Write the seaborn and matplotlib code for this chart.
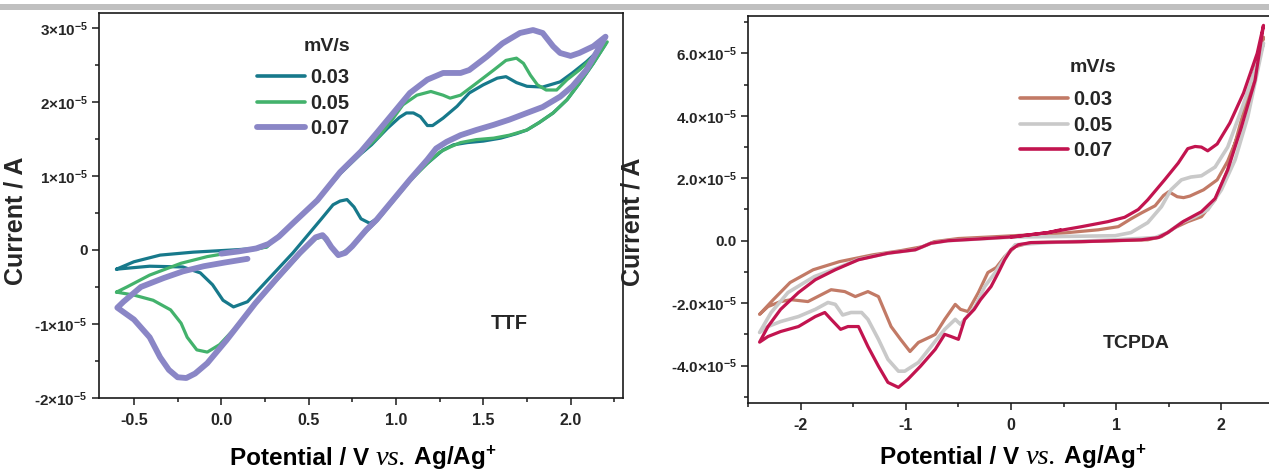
import numpy as np
import pandas as pd
import matplotlib
matplotlib.use("Agg")
import matplotlib.pyplot as plt
from matplotlib.lines import Line2D
from matplotlib.patches import Rectangle
from matplotlib.offsetbox import TextArea, HPacker, AnchoredOffsetbox
from matplotlib.ticker import FixedLocator, FixedFormatter, MultipleLocator
import seaborn as sns

# ---------------- data (potential in V, current in units of 1e-5 A) ----------------
rates = ["0.03", "0.05", "0.07"]

# TTF, 0.03 mV/s
ttf_003_E = [-0.60, -0.50, -0.35, -0.16, 0.07, 0.20, 0.26, 0.30, 0.41, 0.55, 0.68, 0.80, 0.86,
             0.95, 1.02, 1.06, 1.10, 1.14, 1.18, 1.21, 1.27, 1.35, 1.42, 1.50, 1.58, 1.63, 1.69,
             1.75, 1.84, 1.94, 2.01, 2.09, 2.20,
             2.13, 2.05, 1.98, 1.90, 1.82, 1.75, 1.69, 1.60, 1.50, 1.41, 1.33, 1.27, 1.18, 1.08,
             0.985, 0.91, 0.85, 0.80, 0.76, 0.72, 0.68, 0.64, 0.57, 0.41, 0.26, 0.15, 0.07, 0.01,
             -0.05, -0.12, -0.22, -0.41, -0.60]
ttf_003_I = [-0.26, -0.16, -0.07, -0.03, 0.00, 0.02, 0.04, 0.13, 0.36, 0.67, 1.03, 1.30, 1.42,
             1.64, 1.79, 1.85, 1.85, 1.80, 1.68, 1.68, 1.78, 1.94, 2.12, 2.23, 2.32, 2.34, 2.26,
             2.21, 2.20, 2.27, 2.39, 2.54, 2.78,
             2.52, 2.25, 2.03, 1.85, 1.72, 1.62, 1.57, 1.51, 1.47, 1.45, 1.42, 1.35, 1.17, 0.95,
             0.68, 0.45, 0.36, 0.42, 0.58, 0.68, 0.66, 0.61, 0.41, -0.04, -0.42, -0.70, -0.77, -0.68,
             -0.47, -0.31, -0.23, -0.22, -0.26]

# TTF, 0.05 mV/s
ttf_005_E = [-0.60, -0.54, -0.41, -0.23, -0.08, 0.07, 0.20, 0.26, 0.30, 0.41, 0.55, 0.68, 0.80,
             0.91, 0.985, 1.04, 1.12, 1.20, 1.27, 1.31, 1.37, 1.46, 1.56, 1.63, 1.69, 1.73, 1.77,
             1.81, 1.86, 1.92, 1.98, 2.05, 2.13, 2.21,
             2.13, 2.05, 1.98, 1.90, 1.82, 1.75, 1.65, 1.56, 1.46, 1.37, 1.31, 1.25, 1.18, 1.08,
             0.985, 0.89, 0.83, 0.75, 0.67, 0.63, 0.58, 0.54, 0.45, 0.32, 0.18, 0.07, -0.01, -0.08,
             -0.14, -0.195, -0.23, -0.29, -0.39, -0.50, -0.60]
ttf_005_I = [-0.57, -0.50, -0.34, -0.18, -0.09, -0.03, 0.01, 0.04, 0.13, 0.36, 0.67, 1.03, 1.31,
             1.55, 1.78, 1.96, 2.09, 2.14, 2.09, 2.05, 2.09, 2.25, 2.43, 2.56, 2.59, 2.52, 2.36,
             2.23, 2.16, 2.16, 2.30, 2.43, 2.61, 2.81,
             2.52, 2.25, 2.03, 1.85, 1.72, 1.62, 1.55, 1.51, 1.49, 1.45, 1.39, 1.32, 1.17, 0.93,
             0.66, 0.39, 0.25, 0.05, -0.08, 0.04, 0.18, 0.15, -0.06, -0.40, -0.77, -1.08, -1.28,
             -1.38, -1.35, -1.18, -0.99, -0.81, -0.68, -0.61, -0.57]

# TTF, 0.07 mV/s
ttf_007_E = [0.00, 0.10, 0.20, 0.27, 0.33, 0.41, 0.55, 0.68, 0.80, 0.89, 0.985, 1.08, 1.18,
             1.27, 1.37, 1.42, 1.52, 1.61, 1.71, 1.785, 1.84, 1.90, 1.94, 2.00, 2.05, 2.13, 2.20,
             2.09, 2.01, 1.94, 1.84, 1.75, 1.65, 1.56, 1.46, 1.37, 1.29, 1.23, 1.18, 1.08, 0.985,
             0.89, 0.83, 0.75, 0.71, 0.67, 0.63, 0.60, 0.58, 0.54, 0.45, 0.32, 0.195, 0.03, -0.08,
             -0.15, -0.20, -0.25, -0.30, -0.35, -0.41, -0.50, -0.595,
             -0.56, -0.46, -0.33, -0.22, -0.10, 0.02, 0.15]
ttf_007_I = [-0.05, -0.02, 0.02, 0.08, 0.18, 0.36, 0.67, 1.05, 1.33, 1.58, 1.85, 2.12, 2.30,
             2.39, 2.39, 2.43, 2.61, 2.79, 2.93, 2.97, 2.93, 2.75, 2.66, 2.62, 2.66, 2.75, 2.88,
             2.43, 2.21, 2.07, 1.93, 1.85, 1.76, 1.69, 1.62, 1.55, 1.46, 1.37, 1.22, 0.95, 0.68,
             0.41, 0.27, 0.05, -0.04, -0.07, 0.04, 0.15, 0.20, 0.17, -0.04, -0.38, -0.72, -1.22,
             -1.53, -1.67, -1.73, -1.72, -1.62, -1.45, -1.18, -0.94, -0.78,
             -0.70, -0.50, -0.38, -0.29, -0.22, -0.17, -0.12]

# TCPDA, 0.03 mV/s
tcpda_003_E = [0.19, 0.51, 0.83, 1.02, 1.14, 1.24, 1.37, 1.45, 1.50, 1.58, 1.64, 1.70, 1.83,
               1.96, 2.06, 2.18, 2.28, 2.40,
               2.32, 2.19, 2.06, 1.94, 1.81, 1.68, 1.56, 1.43, 1.30, 0.70, 0.19, 0.04, -0.06,
               -0.14, -0.22, -0.31, -0.41, -0.48, -0.53, -0.63, -0.72, -0.76, -0.88, -0.96, -1.05,
               -1.14, -1.26, -1.36, -1.48, -1.58, -1.71, -1.93, -2.09, -2.19, -2.31, -2.39,
               -2.26, -2.10, -1.88, -1.63, -1.31, -1.05, -0.84, -0.73, -0.50, -0.20, 0.19]
tcpda_003_I = [0.19, 0.25, 0.35, 0.45, 0.70, 0.89, 1.12, 1.45, 1.57, 1.41, 1.38, 1.43, 1.63,
               1.95, 2.55, 3.55, 5.00, 6.52,
               5.46, 3.87, 2.27, 1.31, 0.77, 0.61, 0.42, 0.13, 0.03, -0.03, -0.06, -0.19, -0.51,
               -0.86, -1.02, -1.66, -2.27, -2.20, -2.04, -2.52, -3.00, -3.07, -3.26, -3.55, -3.16,
               -2.75, -1.79, -1.63, -1.79, -1.63, -1.57, -1.95, -1.89, -1.95, -2.11, -2.36,
               -1.89, -1.34, -0.93, -0.67, -0.45, -0.32, -0.19, -0.03, 0.07, 0.12, 0.19]

# TCPDA, 0.05 mV/s
tcpda_005_E = [0.04, 0.35, 0.99, 1.14, 1.30, 1.43, 1.52, 1.62, 1.71, 1.81, 1.94, 2.06, 2.19,
               2.32, 2.40,
               2.25, 2.13, 2.00, 1.87, 1.75, 1.62, 1.49, 1.37, 0.99, 0.35, 0.04, -0.05, -0.15,
               -0.25, -0.34, -0.44, -0.48, -0.53, -0.63, -0.76, -0.88, -1.01, -1.07, -1.17, -1.26,
               -1.36, -1.42, -1.52, -1.60, -1.67, -1.74, -1.86, -2.02, -2.19, -2.31, -2.39,
               -2.28, -2.12, -1.87, -1.67, -1.45, -1.17, -0.91, -0.76, -0.60, -0.29, 0.04]
tcpda_005_I = [0.12, 0.13, 0.16, 0.26, 0.58, 1.09, 1.63, 1.95, 2.04, 2.08, 2.36, 3.00, 4.19,
               5.46, 6.33,
               3.96, 2.59, 1.63, 0.99, 0.77, 0.58, 0.26, 0.10, 0.03, -0.06, -0.13, -0.50, -1.02,
               -1.47, -2.11, -2.52, -2.68, -2.52, -2.84, -3.39, -3.90, -4.18, -4.18, -3.80, -3.16,
               -2.52, -2.30, -2.30, -2.38, -2.04, -1.98, -2.20, -2.43, -2.59, -2.75, -2.94,
               -2.30, -1.66, -1.15, -0.90, -0.60, -0.40, -0.29, -0.08, 0.00, 0.06, 0.12]

# TCPDA, 0.07 mV/s
tcpda_007_E = [0.00, 0.35, 0.67, 0.92, 1.08, 1.21, 1.30, 1.46, 1.59, 1.68, 1.75, 1.81, 1.87,
               1.96, 2.08, 2.21, 2.34, 2.40,
               2.32, 2.19, 2.06, 1.94, 1.81, 1.64, 1.49, 1.40, 1.24, 0.67, 0.19, 0.07, 0.00,
               -0.06, -0.12, -0.19, -0.29, -0.35, -0.44, -0.50, -0.57, -0.63, -0.72, -0.86, -0.98,
               -1.07, -1.17, -1.26, -1.36, -1.45, -1.55, -1.62, -1.71, -1.77, -1.86, -2.02, -2.19,
               -2.31, -2.39,
               -2.31, -2.19, -2.02, -1.86, -1.67, -1.45, -1.17, -0.91, -0.76, -0.60, -0.29, 0.04,
               0.35, 0.47]
tcpda_007_I = [0.12, 0.26, 0.45, 0.61, 0.75, 1.00, 1.31, 1.95, 2.49, 2.95, 3.02, 3.00, 2.88,
               3.10, 3.77, 4.73, 6.00, 6.90,
               5.14, 3.64, 2.27, 1.35, 0.93, 0.62, 0.26, 0.10, 0.03, -0.03, -0.06, -0.13, -0.29,
               -0.61, -1.02, -1.47, -1.89, -2.20, -2.52, -3.16, -3.07, -3.00, -3.48, -4.02, -4.44,
               -4.70, -4.54, -4.02, -3.39, -2.75, -2.75, -2.84, -2.52, -2.30, -2.43, -2.75, -2.91,
               -3.07, -3.25,
               -2.75, -2.20, -1.66, -1.25, -0.93, -0.61, -0.40, -0.29, -0.08, 0.00, 0.06, 0.13,
               0.26, 0.35]

ttf_series = {"0.03": (ttf_003_E, ttf_003_I), "0.05": (ttf_005_E, ttf_005_I),
              "0.07": (ttf_007_E, ttf_007_I)}
tcpda_series = {"0.03": (tcpda_003_E, tcpda_003_I), "0.05": (tcpda_005_E, tcpda_005_I),
                "0.07": (tcpda_007_E, tcpda_007_I)}

# axis ticks
ttf_xticks = [-0.5, 0.0, 0.5, 1.0, 1.5, 2.0]
ttf_xticklabels = ["-0.5", "0.0", "0.5", "1.0", "1.5", "2.0"]
ttf_yticks = [-2e-5, -1e-5, 0, 1e-5, 2e-5, 3e-5]
ttf_yticklabels = [r"-2×10$^{-5}$", r"-1×10$^{-5}$", "0", r"1×10$^{-5}$", r"2×10$^{-5}$",
                   r"3×10$^{-5}$"]
tcpda_xticks = [-2, -1, 0, 1, 2]
tcpda_xticklabels = ["-2", "-1", "0", "1", "2"]
tcpda_yticks = [-4e-5, -2e-5, 0, 2e-5, 4e-5, 6e-5]
tcpda_yticklabels = [r"-4.0×10$^{-5}$", r"-2.0×10$^{-5}$", "0.0", r"2.0×10$^{-5}$",
                     r"4.0×10$^{-5}$", r"6.0×10$^{-5}$"]

# ---------------- style ----------------
sns.set_theme(style="ticks")
plt.rcParams["font.family"] = ["Liberation Sans", "DejaVu Sans"]
plt.rcParams["font.weight"] = "bold"
plt.rcParams["mathtext.fontset"] = "custom"
plt.rcParams["mathtext.rm"] = "Liberation Sans:bold"
plt.rcParams["mathtext.bf"] = "Liberation Sans:bold"
plt.rcParams["mathtext.it"] = "Liberation Serif:italic"
plt.rcParams["mathtext.default"] = "rm"

ttf_colors = {"0.03": "#17798b", "0.05": "#43b26c", "0.07": "#8a86c6"}
ttf_widths = {"0.03": 2.3, "0.05": 2.3, "0.07": 4.2}
tcpda_colors = {"0.03": "#c27a66", "0.05": "#c9c9c9", "0.07": "#c2144f"}
tcpda_widths = {"0.03": 2.3, "0.05": 2.6, "0.07": 2.3}

W, H = 1269, 472
fig = plt.figure(figsize=(W / 100, H / 100), dpi=100)
fig.patch.set_facecolor("white")

# thin grey band along the top edge
fig.add_artist(Rectangle((0, 1 - 9.5 / H), 1, 5.5 / H, transform=fig.transFigure,
                         facecolor="#c0c0c0", edgecolor="none"))

ax1 = fig.add_axes([99 / W, 1 - 398 / H, 524 / W, 385 / H])
ax2 = fig.add_axes([748 / W, 1 - 403 / H, 526 / W, 387 / H])


def draw_panel(ax, series, colors, widths):
    for rate in rates:
        E, I = series[rate]
        df = pd.DataFrame({"E": E, "I": np.asarray(I) * 1e-5})
        sns.lineplot(data=df, x="E", y="I", sort=False, estimator=None, ax=ax,
                     color=colors[rate], linewidth=widths[rate], solid_capstyle="round",
                     solid_joinstyle="round")


draw_panel(ax1, ttf_series, ttf_colors, ttf_widths)
draw_panel(ax2, tcpda_series, tcpda_colors, tcpda_widths)

ax1.set_xlim(-0.7, 2.3)
ax1.set_ylim(-2.0e-5, 3.2e-5)
ax2.set_xlim(-2.5, 2.5)
ax2.set_ylim(-5.2e-5, 7.2e-5)

ax1.xaxis.set_major_locator(FixedLocator(ttf_xticks))
ax1.xaxis.set_major_formatter(FixedFormatter(ttf_xticklabels))
ax1.xaxis.set_minor_locator(MultipleLocator(0.25))
ax1.yaxis.set_major_locator(FixedLocator(ttf_yticks))
ax1.yaxis.set_major_formatter(FixedFormatter(ttf_yticklabels))
ax1.yaxis.set_minor_locator(MultipleLocator(0.5e-5))

ax2.xaxis.set_major_locator(FixedLocator(tcpda_xticks))
ax2.xaxis.set_major_formatter(FixedFormatter(tcpda_xticklabels))
ax2.xaxis.set_minor_locator(MultipleLocator(0.5))
ax2.yaxis.set_major_locator(FixedLocator(tcpda_yticks))
ax2.yaxis.set_major_formatter(FixedFormatter(tcpda_yticklabels))
ax2.yaxis.set_minor_locator(MultipleLocator(1e-5))


def potential_label(ax, y):
    """Axis title built from pieces so that 'vs.' can be set in a serif italic."""
    sans = dict(fontsize=17.5, fontweight="bold", family="Liberation Sans", color="black")
    parts = [TextArea("Potential / V ", textprops=sans),
             TextArea("vs.", textprops=dict(fontsize=20.5, style="italic", fontweight="normal",
                                            family="Liberation Serif", color="black")),
             TextArea(" Ag/Ag$^{+}$", textprops=sans)]
    box = HPacker(children=parts, align="baseline", pad=0, sep=0)
    anchored = AnchoredOffsetbox(loc="upper center", child=box, pad=0, borderpad=0,
                                 frameon=False, bbox_to_anchor=(0.504, y),
                                 bbox_transform=ax.transAxes)
    ax.add_artist(anchored)


for ax in (ax1, ax2):
    ax.set_facecolor("white")
    for s in ax.spines.values():
        s.set_color("#1a1a1a")
        s.set_linewidth(1.2)
        s.set_visible(True)
    ax.tick_params(which="both", direction="out", color="#1a1a1a", width=1.1,
                   top=False, right=False)
    ax.tick_params(which="major", length=5)
    ax.tick_params(which="minor", length=3)
    ax.tick_params(axis="x", labelsize=11.5, pad=6)
    ax.tick_params(axis="y", labelsize=11, pad=3)
    ax.set_xlabel("")
    ax.set_ylabel("Current / A", fontsize=18, fontweight="bold")
    for lbl in ax.get_xticklabels() + ax.get_yticklabels():
        lbl.set_fontweight("bold")

potential_label(ax1, -0.118)
potential_label(ax2, -0.103)
ax1.yaxis.set_label_coords(-0.137, 0.46)
ax2.yaxis.set_label_coords(-0.196, 0.468)

# legends with the scan-rate heading set as a separate line of text
for ax, colors, widths, anchor, head in (
        (ax1, ttf_colors, ttf_widths, (0.267, 0.903), (0.435, 0.914)),
        (ax2, tcpda_colors, tcpda_widths, (0.482, 0.855), (0.656, 0.866))):
    handles = [Line2D([], [], color=colors[r], linewidth=max(widths[r], 2.6)) for r in rates]
    ax.legend(handles, rates, loc="upper left", bbox_to_anchor=anchor,
              frameon=False, handlelength=2.4, handletextpad=0.25, labelspacing=0.32,
              prop={"weight": "bold", "size": 14.5})
    ax.text(head[0], head[1], "mV/s", transform=ax.transAxes, fontsize=14,
            fontweight="bold", ha="center", va="center")

ax1.text(1.65, -0.99e-5, "TTF", fontsize=14.5, fontweight="bold", ha="center", va="center")
ax2.text(1.19, -3.29e-5, "TCPDA", fontsize=14, fontweight="bold", ha="center", va="center")

fig.savefig("out.png", dpi=100, facecolor="white")
